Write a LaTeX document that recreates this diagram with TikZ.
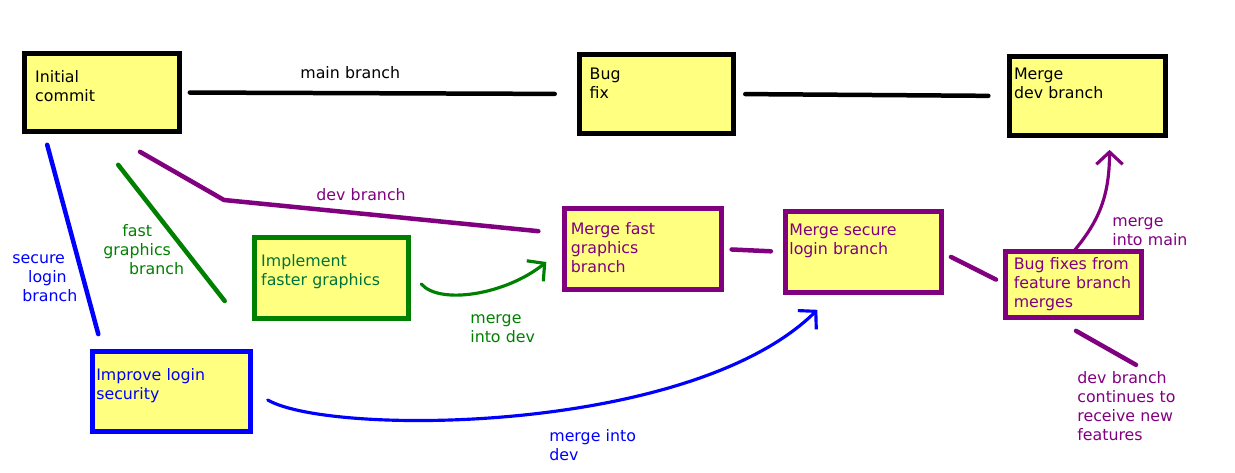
\documentclass[tikz,border=0pt]{standalone}
\usepackage{fontspec}
\setmainfont{DejaVu Sans}
\usepackage{xcolor}
\usetikzlibrary{calc, arrows.meta}

\definecolor{notefill}{RGB}{255,255,128}
\definecolor{devpurple}{RGB}{128,0,128}
\definecolor{gfxgreen}{RGB}{0,128,0}
\definecolor{gfxtext}{RGB}{0,115,60}
\definecolor{loginblue}{RGB}{0,0,255}

\begin{document}
\begin{tikzpicture}[
    x=0.02cm, y=-0.02cm,        % 1 unit = 1 px of the sketch, y downwards
    commit/.style={draw, fill=notefill, line width=0.1cm, align=left,
        inner xsep=4pt, inner ysep=0pt, outer sep=0pt, text width=80pt,
        font=\fontsize{9}{10.8}\selectfont},
    vfit/.style 2 args={text height=#1, text depth=#2},
    branch/.style={line width=0.09cm, line cap=round},
    mergearrow/.style={line width=1.8pt, line cap=round,
        -{Straight Barb[length=7pt, width=15pt]}},
    lab/.style={anchor=north west, inner sep=0pt, align=left, text width=80pt,
        text height=7pt, font=\fontsize{9}{10.8}\selectfont},
]
\useasboundingbox (0,0) rectangle (1235,473);

% -------------------------------------------------
% Commits
% -------------------------------------------------
\node[commit, inner xsep=6pt, text width=76pt, vfit={16.2pt}{28pt}]
    (init) at (102,92.5) {Initial\\commit};
\node[commit, inner xsep=6pt, text width=76pt, vfit={13.9pt}{30.9pt}]
    (bugfix) at (656.5,94) {Bug\\fix};
\node[commit, inner xsep=2.4pt, text width=83.6pt, vfit={12.8pt}{32pt}]
    (mergedev) at (1087.5,96) {Merge\\dev branch};

\node[commit, draw=gfxgreen, text=gfxtext, vfit={16.5pt}{29.4pt}]
    (implement) at (331.5,278) {Implement\\faster graphics};
\node[commit, draw=devpurple, text=devpurple, inner xsep=3.4pt, text width=82.2pt, vfit={14.5pt}{31.4pt}]
    (mergefast) at (643,249) {Merge fast\\graphics\\branch};
\node[commit, draw=devpurple, text=devpurple, inner xsep=2pt, text width=84.4pt, vfit={13.3pt}{32.6pt}]
    (mergesecure) at (863.5,252) {Merge secure\\login branch};
\node[commit, draw=devpurple, text=devpurple, inner xsep=4.5pt, text width=68pt, vfit={10.2pt}{27.2pt}]
    (bugfixes) at (1073.5,284.5) {Bug fixes from\\feature branch\\merges};
\node[commit, draw=loginblue, text=loginblue, inner xsep=2pt, text width=85.6pt, vfit={16.2pt}{29.2pt}]
    (improve) at (171.5,391.5) {Improve login\\security};

% -------------------------------------------------
% Free ends of the hand drawn branch lines
% -------------------------------------------------
\coordinate (loginfork) at ($(init.south west)+(22.5,13.5)$);
\coordinate (loginend)  at ($(improve.north west)+(5.5,-17.5)$);
\coordinate (gfxfork)   at ($(init.south west)+(93.5,33.5)$);
\coordinate (gfxend)    at ($(implement.west)+(-29.5,23)$);
\coordinate (devfork)   at ($(init.south)+(38,20.5)$);
\coordinate (devbend)   at (224,200);
\coordinate (devend)    at ($(mergefast.north west)+(-26.5,22.5)$);
\coordinate (devnext)   at ($(bugfixes.south)+(2.5,13.5)$);
\coordinate (devnextend) at ($(bugfixes.south)+(62.5,47.5)$);

\coordinate (gfxout)   at ($(implement.east)+(12.5,6)$);
\coordinate (gfxin)    at ($(mergefast.west)+(-18.5,13)$);
\coordinate (loginout) at ($(improve.east)+(17.5,8.5)$);
\coordinate (loginin)  at ($(mergesecure.south west)+(31.5,17.5)$);
\coordinate (mainin)   at ($(mergedev.south)+(22,14.5)$);

% -------------------------------------------------
% Branches
% -------------------------------------------------
\draw[branch, shorten <=0.21cm, shorten >=0.49cm] (init.east) -- (bugfix.west);
\draw[branch, shorten <=0.23cm, shorten >=0.43cm] (bugfix.east) -- (mergedev.west);

\draw[branch, devpurple] (devfork) -- (devbend) -- (devend);
\draw[branch, gfxgreen] (gfxfork) -- (gfxend);
\draw[branch, loginblue] (loginfork) -- (loginend);

\draw[branch, devpurple, shorten <=0.21cm, shorten >=0.3cm] (mergefast.east) -- (mergesecure.west);
\draw[branch, devpurple, shorten <=0.22cm, shorten >=0.22cm] (mergesecure.east) -- (bugfixes.west);
\draw[branch, devpurple] (devnext) -- (devnextend);

% -------------------------------------------------
% Merges
% -------------------------------------------------
\draw[mergearrow, gfxgreen] (gfxout) .. controls +(18,21) and +(-41,33) .. (gfxin);
\draw[mergearrow, loginblue] (loginout) .. controls +(62,36) and +(-127,125) .. (loginin);
\draw[mergearrow, devpurple] (bugfixes.north) .. controls +(23,-28) and +(0,50) .. (mainin);

% -------------------------------------------------
% Labels
% -------------------------------------------------
\node[lab] (mainlab) at (300,66) {main branch};
\node[lab, text=devpurple] (devlab) at (316,188) {dev branch};
\node[lab, text=gfxgreen] (gfxlab) at (103,224) {\hspace*{10.8pt}fast\\graphics\\\hspace*{14.7pt}branch};
\node[lab, text=loginblue] (loginlab) at (12,251) {secure\\\hspace*{9pt}login\\\hspace*{5.7pt}branch};
\node[lab, text=gfxgreen] (gfxmergelab) at (470,311) {merge\\into dev};
\node[lab, text=devpurple] (mainmergelab) at (1112,214) {merge\\into main};
\node[lab, text=devpurple] (devcontlab) at (1077,371) {dev branch\\continues to\\receive new\\features};
\node[lab, text=loginblue] (loginmergelab) at (549,429) {merge into\\dev};

\end{tikzpicture}
\end{document}
